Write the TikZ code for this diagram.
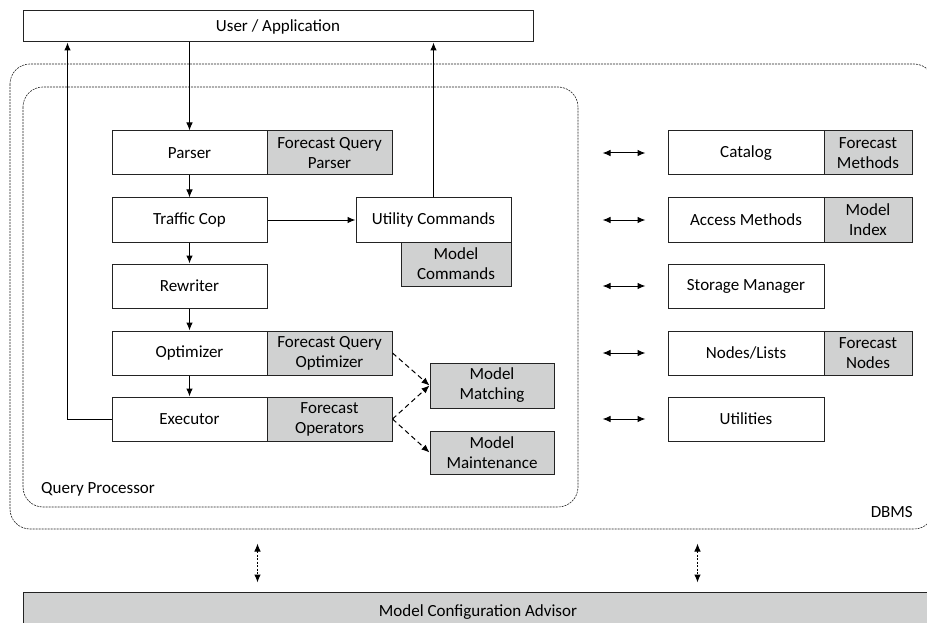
\documentclass[tikz,border=0pt]{standalone}
\usepackage{fontspec}
\setmainfont{Carlito}
\usetikzlibrary{arrows.meta,calc}
\definecolor{boxgrey}{RGB}{208,209,209}
\definecolor{linegrey}{RGB}{35,35,35}
\tikzset{
  wbox/.style={draw=linegrey, line width=1pt, fill=white, minimum height=44pt, inner sep=0pt, align=center},
  gbox/.style={wbox, fill=boxgrey},
  arr/.style={line width=1pt, -{Latex[length=8pt,width=6.5pt]}},
  darr/.style={line width=1pt, {Latex[length=8pt,width=6.5pt]}-{Latex[length=8pt,width=6.5pt]}},
  dasharr/.style={line width=1pt, dash pattern=on 5pt off 3.5pt, -{Latex[length=8pt,width=6.5pt]}},
  vdarr/.style={line width=1pt, dash pattern=on 2pt off 1.5pt, {Latex[length=8pt,width=6.5pt]}-{Latex[length=8pt,width=6.5pt]}},
  container/.style={draw=linegrey, line width=0.6pt, dash pattern=on 2pt off 1pt, rounded corners=20pt},
}
\begin{document}
\begin{tikzpicture}[x=1pt,y=-1pt, font=\fontsize{17}{20}\selectfont]
\useasboundingbox (0,0) rectangle (927,623);
\clip (0,0) rectangle (927,623);
% containers
\draw[container] (10,64) rectangle (934,529);
\draw[container] (23,87) rectangle (578,507);
\node[anchor=base west, inner sep=0pt] (qplabel) at (41,493) {Query Processor};
\node[anchor=east, inner sep=0pt] (dbmslabel) at (913,512) {DBMS};
% top / bottom
\node[wbox, minimum width=510pt, minimum height=31pt] (user) at (278,26.5) {User / Application};
\node[gbox, minimum width=910pt, minimum height=40pt] (mca) at (478,612) {Model Configuration Advisor};
% query processor column
\node[wbox, minimum width=155pt] (parser) at (189.5,153) {Parser};
\node[gbox, minimum width=125pt] (parserg) at (329.5,153) {Forecast Query\\Parser};
\node[wbox, minimum width=155pt] (tcop) at (189.5,220) {Traffic Cop};
\node[wbox, minimum width=155pt] (util) at (433.5,220) {Utility Commands};
\node[gbox, minimum width=110pt] (modcmd) at (456,264) {Model\\Commands};
\node[wbox, minimum width=155pt] (rewr) at (189.5,286) {Rewriter};
\node[wbox, minimum width=155pt] (opt) at (189.5,353) {Optimizer};
\node[gbox, minimum width=125pt] (optg) at (329.5,353) {Forecast Query\\Optimizer};
\node[wbox, minimum width=155pt] (exe) at (189.5,419) {Executor};
\node[gbox, minimum width=125pt] (exeg) at (329.5,419) {Forecast\\Operators};
\node[gbox, minimum width=124pt, minimum height=45pt] (mm) at (492,385.5) {Model\\Matching};
\node[gbox, minimum width=124pt, minimum height=43pt] (mmt) at (492,452.5) {Model\\Maintenance};
% right column
\node[wbox, minimum width=156pt] (cat) at (746,153) {Catalog};
\node[gbox, minimum width=88pt] (catg) at (868,153) {Forecast\\Methods};
\node[wbox, minimum width=156pt] (acc) at (746,220) {Access Methods};
\node[gbox, minimum width=88pt] (accg) at (868,220) {Model\\Index};
\node[wbox, minimum width=156pt] (stor) at (746,286) {Storage Manager};
\node[wbox, minimum width=156pt] (nodes) at (746,353) {Nodes/Lists};
\node[gbox, minimum width=88pt] (nodesg) at (868,353) {Forecast\\Nodes};
\node[wbox, minimum width=156pt] (utils) at (746,419) {Utilities};
% connectors
\draw[arr] (parser.north |- user.south) -- (parser.north);
\draw[arr] (parser) -- (tcop);
\draw[arr] (tcop) -- (rewr);
\draw[arr] (rewr) -- (opt);
\draw[arr] (opt) -- (exe);
\draw[arr] (tcop) -- (util);
\draw[arr] (util.north) -- (util.north |- user.south);
\draw[arr] (exe.west) -| ($(user.south west)+(45,0)$);
\draw[dasharr] (optg.east) -- (mm.west);
\draw[dasharr] (exeg.east) -- (mm.west);
\draw[dasharr] (exeg.east) -- (mmt.west);
\foreach \n in {cat,acc,stor,nodes,utils}
  \draw[darr] ([xshift=-65pt]\n.west) -- ([xshift=-22pt]\n.west);
\draw[vdarr] ($(mca.north west)+(235,-48)$) -- ($(mca.north west)+(235,-9)$);
\draw[vdarr] ($(mca.north west)+(675,-48)$) -- ($(mca.north west)+(675,-9)$);
\end{tikzpicture}
\end{document}
